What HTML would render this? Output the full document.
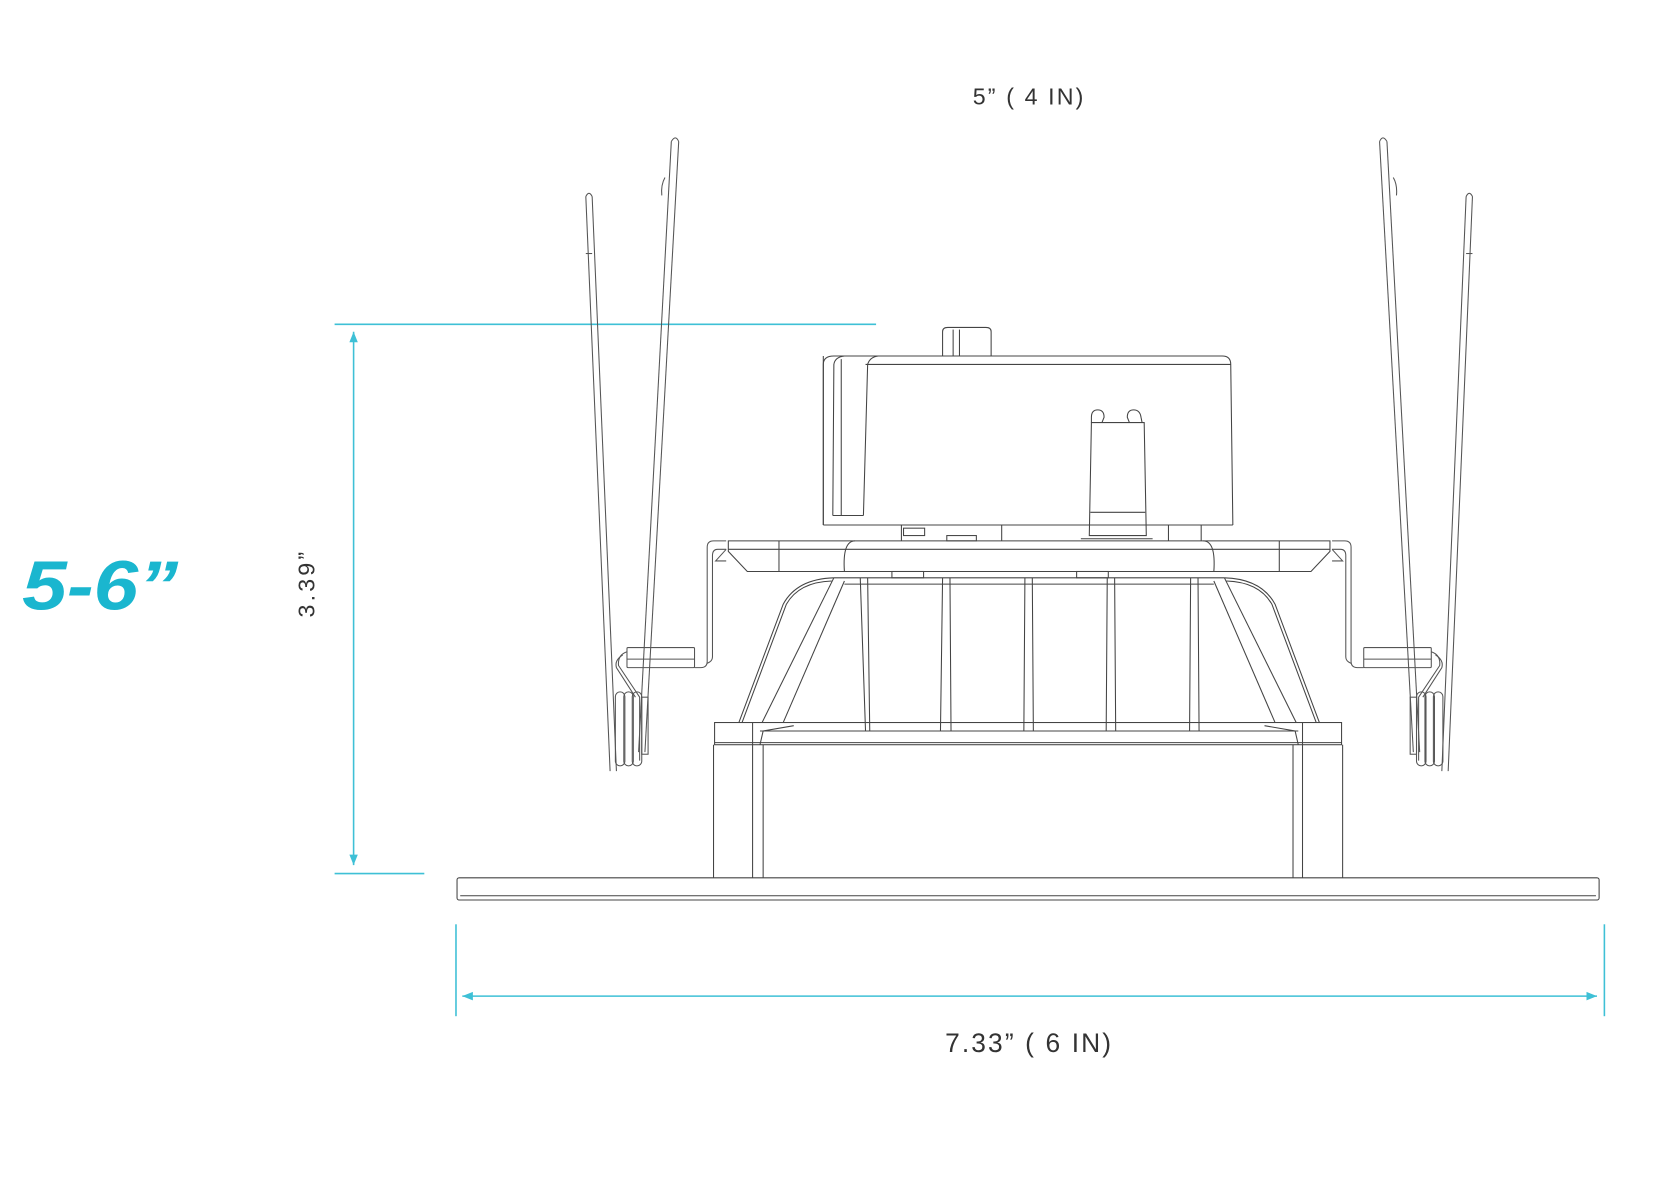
<!DOCTYPE html>
<html><head><meta charset="utf-8"><style>
html,body{margin:0;padding:0;background:#fff;width:1654px;height:1200px;overflow:hidden}
svg{display:block}
text{font-family:"Liberation Sans",sans-serif}
</style></head><body>
<svg width="1654" height="1200" viewBox="0 0 1567 1136" preserveAspectRatio="none" xmlns="http://www.w3.org/2000/svg">
<defs>
<marker id="ar" viewBox="0 0 10 10" refX="10" refY="5" markerWidth="10" markerHeight="10" orient="auto-start-reverse" markerUnits="userSpaceOnUse"><path d="M0,1 L10,5 L0,9 Z" fill="#3ec0d6"/></marker>
<g id="spring" fill="none" stroke="#555" stroke-width="1">
  <line x1="555" y1="186" x2="578" y2="730"/>
  <line x1="561" y1="186" x2="584" y2="730"/>
  <path d="M555,186 Q558,180 561,186"/>
  <line x1="555" y1="240" x2="561" y2="240"/>
  <line x1="636" y1="134" x2="605" y2="712"/>
  <line x1="643" y1="134" x2="611" y2="712"/>
  <path d="M636,134 Q640,127 643,134"/>
  <path d="M630,168 Q626,175 627,185"/>
  <rect x="594" y="613" width="64" height="19" rx="1"/>
  <line x1="594" y1="624" x2="658" y2="624"/>
  <path d="M594,617 Q585,620 586,630 L606,660 L606,720"/>
  <path d="M590,620 Q582,625 584,632 L602,660"/>
  <rect x="583" y="655" width="9" height="70" rx="4.5"/>
  <rect x="591" y="655" width="9" height="70" rx="4.5"/>
  <rect x="599" y="655" width="9" height="70" rx="4.5"/>
  <rect x="608" y="660" width="6" height="54"/>
  <path d="M688,512 L676,512 Q670,512 670,518 L670,626 Q670,632 664,632 L658,632"/>
  <path d="M688,520 L680,520 Q675,520 675,526 L675,622 Q675,626 670,628"/>
  <path d="M688,520 L678,531 L688,531"/>
</g>
</defs>

<text x="975" y="99" text-anchor="middle" font-size="22" fill="#333" letter-spacing="2">5” ( 4 IN)</text>
<text x="975" y="996" text-anchor="middle" font-size="25" fill="#333" letter-spacing="2">7.33” ( 6 IN)</text>
<text transform="translate(298,552) rotate(-90)" text-anchor="middle" font-size="22" fill="#333" letter-spacing="3">3.39”</text>
<text x="21" y="577" font-size="66" font-weight="bold" font-style="italic" fill="#1ab6cf" textLength="148" lengthAdjust="spacingAndGlyphs">5-6”</text>

<g stroke="#3ec0d6" stroke-width="1.5" fill="none">
  <line x1="317" y1="307" x2="830" y2="307"/>
  <line x1="317" y1="827" x2="402" y2="827"/>
  <line x1="335" y1="314" x2="335" y2="819" marker-start="url(#ar)" marker-end="url(#ar)"/>
  <line x1="432" y1="875" x2="432" y2="962"/>
  <line x1="1520" y1="875" x2="1520" y2="962"/>
  <line x1="438" y1="943" x2="1513" y2="943" marker-start="url(#ar)" marker-end="url(#ar)"/>
</g>

<g fill="none" stroke="#444" stroke-width="1">
  <rect x="433" y="831" width="1082" height="21" rx="2"/>
  <line x1="436" y1="848" x2="1512" y2="848"/>
  <line x1="676" y1="705" x2="676" y2="831"/>
  <line x1="713" y1="705" x2="713" y2="831"/>
  <line x1="723" y1="705" x2="723" y2="831"/>
  <line x1="1225" y1="705" x2="1225" y2="831"/>
  <line x1="1234" y1="705" x2="1234" y2="831"/>
  <line x1="1272" y1="705" x2="1272" y2="831"/>
  <rect x="677" y="684" width="594" height="21"/>
  <line x1="720" y1="692" x2="1230" y2="692"/>
  <line x1="677" y1="703" x2="1271" y2="703"/>
  <path d="M720,705 L723,692 L752,687"/>
  <path d="M1230,705 L1227,692 L1198,687"/>
  <line x1="713" y1="684" x2="713" y2="705"/>
  <line x1="1234" y1="684" x2="1234" y2="705"/>
  <path d="M700,684 L742,572 Q755,548 790,547"/>
  <path d="M703,684 L745,572 Q757,551 788,550"/>
  <path d="M722,684 L790,547"/>
  <path d="M742,684 L800,550"/>
  <path d="M1250,684 L1208,572 Q1195,548 1160,547"/>
  <path d="M1247,684 L1205,572 Q1193,551 1162,550"/>
  <path d="M1228,684 L1160,547"/>
  <path d="M1208,684 L1150,550"/>
  <line x1="790" y1="547" x2="1160" y2="547"/>
  <line x1="800" y1="553" x2="1150" y2="553"/>
  <path d="M815,547 L820,692 M822,547 L824,692"/>
  <path d="M893,547 L891,692 M900,547 L901,692"/>
  <path d="M971,547 L970,692 M978,547 L979,692"/>
  <path d="M1049,547 L1048,692 M1056,547 L1057,692"/>
  <path d="M1128,547 L1127,692 M1135,547 L1136,692"/>
  <line x1="820" y1="692" x2="1136" y2="692"/>
  <path d="M690,512 L1260,512 L1260,522 L1242,541 L708,541 L690,522 Z"/>
  <line x1="690" y1="520" x2="1260" y2="520"/>
  <line x1="738" y1="512" x2="738" y2="541"/>
  <line x1="1212" y1="512" x2="1212" y2="541"/>
  <path d="M800,541 Q798,512 810,512"/>
  <path d="M1150,541 Q1152,512 1140,512"/>
  <rect x="845" y="541" width="30" height="6"/>
  <rect x="1020" y="541" width="30" height="6"/>
  <line x1="780" y1="497" x2="1168" y2="497"/>
  <line x1="780" y1="497" x2="780" y2="337"/>
  <path d="M854,497 L854,512 M949,497 L949,512 M1138,497 L1138,512 M1107,497 L1107,512"/>
  <rect x="897" y="507" width="28" height="5"/>
  <rect x="856" y="500" width="20" height="7"/>
  <path d="M780,497 L780,345 Q780,337 790,337 L1158,337 Q1166,337 1166,345 L1168,497"/>
  <line x1="820" y1="345" x2="1166" y2="345"/>
  <path d="M789,488 L790,345 Q791,338 800,337"/>
  <path d="M797,488 L797,340"/>
  <path d="M818,488 L822,345 Q824,338 832,337"/>
  <line x1="789" y1="488" x2="818" y2="488"/>
  <path d="M893,337 L893,314 Q893,310 898,310 L934,310 Q939,310 939,314 L939,337"/>
  <line x1="903" y1="312" x2="903" y2="337"/>
  <line x1="909" y1="312" x2="909" y2="337"/>
  <path d="M1034,400 L1032,507 L1086,507 L1084,400 Z"/>
  <line x1="1033" y1="485" x2="1085" y2="485"/>
  <path d="M1034,400 L1034,395 Q1034,388 1040,388 Q1046,388 1046,395 L1044,400"/>
  <path d="M1070,400 L1068,395 Q1068,388 1074,388 Q1080,388 1081,395 L1082,400"/>
  <line x1="1024" y1="510" x2="1092" y2="510"/>
</g>
<use href="#spring"/>
<use href="#spring" transform="translate(1950,0) scale(-1,1)"/>
</svg>
</body></html>
